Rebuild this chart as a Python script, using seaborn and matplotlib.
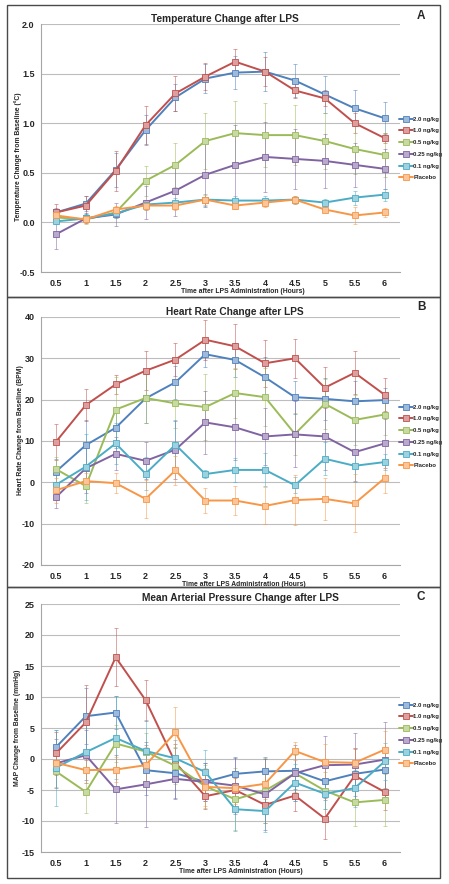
import matplotlib.pyplot as plt
import matplotlib.patches as patches
import matplotlib.colors as mcolors
import seaborn as sns
import pandas as pd


sns.set_style("white")
plt.rcParams["font.family"] = ["Liberation Sans", "DejaVu Sans"]
plt.rcParams["font.weight"] = "bold"

hours = [0.5, 1, 1.5, 2, 2.5, 3, 3.5, 4, 4.5, 5, 5.5, 6]
doses = ["2.0 ng/kg", "1.0 ng/kg", "0.5 ng/kg", "0.25 ng/kg", "0.1 ng/kg", "Placebo"]
colors = ["#4F81BD", "#C0504D", "#9BBB59", "#8064A2", "#4BACC6", "#F79646"]

# A - temperature change (deg C)
temp_20 = [0.10, 0.19, 0.53, 0.93, 1.26, 1.45, 1.51, 1.52, 1.43, 1.29, 1.15, 1.05]
temp_10 = [0.10, 0.17, 0.52, 0.98, 1.30, 1.47, 1.62, 1.52, 1.33, 1.25, 1.00, 0.85]
temp_05 = [0.05, 0.03, 0.10, 0.42, 0.58, 0.82, 0.90, 0.88, 0.88, 0.82, 0.74, 0.68]
temp_025 = [-0.12, 0.04, 0.08, 0.20, 0.32, 0.48, 0.58, 0.66, 0.64, 0.62, 0.58, 0.54]
temp_01 = [0.01, 0.04, 0.09, 0.18, 0.20, 0.23, 0.22, 0.22, 0.23, 0.20, 0.25, 0.28]
temp_pl = [0.07, 0.03, 0.13, 0.17, 0.17, 0.23, 0.17, 0.20, 0.23, 0.13, 0.07, 0.10]
temp_20_err = [0.05, 0.08, 0.17, 0.15, 0.14, 0.15, 0.17, 0.20, 0.17, 0.19, 0.18, 0.16]
temp_10_err = [0.09, 0.10, 0.20, 0.19, 0.18, 0.14, 0.13, 0.15, 0.08, 0.08, 0.10, 0.05]
temp_05_err = [0.05, 0.05, 0.06, 0.15, 0.22, 0.28, 0.32, 0.32, 0.30, 0.28, 0.25, 0.22]
temp_025_err = [0.15, 0.05, 0.12, 0.17, 0.26, 0.32, 0.40, 0.35, 0.30, 0.27, 0.22, 0.20]
temp_01_err = [0.03, 0.04, 0.05, 0.05, 0.05, 0.06, 0.05, 0.05, 0.04, 0.04, 0.07, 0.06]
temp_pl_err = [0.03, 0.04, 0.04, 0.04, 0.05, 0.05, 0.03, 0.04, 0.04, 0.03, 0.09, 0.05]

# B - heart rate change (BPM)
hr_20 = [2.6, 9.0, 13.2, 20.3, 24.2, 31.0, 29.6, 25.4, 20.6, 20.2, 19.6, 19.9]
hr_10 = [9.8, 18.7, 23.7, 27.0, 29.7, 34.5, 32.9, 28.8, 30.0, 22.9, 26.5, 21.2]
hr_05 = [3.2, -0.9, 17.6, 20.4, 19.1, 18.2, 21.6, 20.6, 11.7, 19.0, 15.1, 16.4]
hr_025 = [-3.6, 3.4, 6.9, 5.2, 7.9, 14.5, 13.3, 11.1, 11.6, 11.1, 7.3, 9.4]
hr_01 = [-0.6, 3.8, 9.4, 2.1, 9.1, 2.0, 3.0, 3.0, -0.7, 5.7, 4.0, 4.9]
hr_pl = [-1.9, 0.3, -0.2, -4.0, 2.9, -4.4, -4.4, -5.7, -4.3, -4.0, -5.1, 1.0]
hr_20_err = [3.0, 6.0, 5.0, 6.0, 4.0, 3.0, 4.0, 5.0, 4.0, 5.0, 5.0, 3.0]
hr_10_err = [4.3, 3.8, 2.3, 4.7, 4.0, 4.8, 5.4, 5.7, 4.7, 4.9, 5.2, 4.0]
hr_05_err = [3.0, 4.0, 8.0, 6.0, 6.0, 8.0, 6.0, 7.0, 5.0, 6.0, 6.0, 5.0]
hr_025_err = [2.5, 6.0, 4.0, 4.5, 7.0, 7.6, 8.0, 7.0, 8.0, 8.0, 7.0, 6.0]
hr_01_err = [3.0, 8.0, 5.0, 4.0, 6.0, 1.0, 3.0, 4.0, 2.0, 4.0, 4.0, 2.0]
hr_pl_err = [3.0, 2.0, 2.5, 4.6, 3.5, 3.0, 3.5, 4.5, 6.0, 5.0, 7.0, 3.5]

# C - mean arterial pressure change (mmHg)
map_20 = [1.9, 6.9, 7.5, -1.8, -2.3, -3.7, -2.4, -2.0, -1.9, -3.6, -2.4, -1.7]
map_10 = [0.9, 5.9, 16.4, 9.5, -0.6, -6.0, -5.0, -7.4, -5.9, -9.6, -2.7, -5.3]
map_05 = [-2.0, -5.3, 2.5, 1.2, -1.1, -4.4, -6.5, -5.1, -2.3, -5.1, -7.0, -6.6]
map_025 = [-0.7, 0.6, -4.9, -4.1, -3.2, -3.7, -4.3, -5.7, -2.3, -1.0, -0.9, -0.1]
map_01 = [-1.4, 1.1, 3.4, 1.3, 0.1, -2.1, -8.1, -8.4, -3.8, -5.6, -4.7, -0.4]
map_pl = [-0.6, -1.8, -1.7, -1.0, 4.3, -4.5, -4.7, -4.0, 1.3, -0.5, -0.6, 1.5]
map_20_err = [2.7, 4.5, 2.7, 4.0, 4.0, 3.0, 2.8, 2.3, 3.0, 3.0, 4.0, 3.0]
map_10_err = [3.5, 6.1, 4.7, 3.3, 3.0, 2.0, 2.0, 3.0, 2.5, 3.3, 4.5, 3.0]
map_05_err = [2.5, 3.4, 3.0, 3.0, 3.0, 3.5, 5.0, 5.3, 3.0, 3.0, 3.8, 4.2]
map_025_err = [4.0, 4.0, 5.5, 6.8, 3.2, 3.0, 4.5, 5.7, 4.5, 4.7, 5.1, 6.1]
map_01_err = [6.1, 5.0, 6.7, 5.0, 3.0, 3.5, 3.5, 3.4, 3.0, 2.5, 3.0, 3.0]
map_pl_err = [1.7, 2.0, 2.0, 3.0, 4.1, 3.0, 2.5, 2.5, 1.5, 3.0, 2.4, 3.0]

temp_means = [temp_20, temp_10, temp_05, temp_025, temp_01, temp_pl]
temp_errs = [temp_20_err, temp_10_err, temp_05_err, temp_025_err, temp_01_err, temp_pl_err]
hr_means = [hr_20, hr_10, hr_05, hr_025, hr_01, hr_pl]
hr_errs = [hr_20_err, hr_10_err, hr_05_err, hr_025_err, hr_01_err, hr_pl_err]
map_means = [map_20, map_10, map_05, map_025, map_01, map_pl]
map_errs = [map_20_err, map_10_err, map_05_err, map_025_err, map_01_err, map_pl_err]

W, H = 449, 884
fig = plt.figure(figsize=(W / 100, H / 100), dpi=100)


def px_box(left, top, right, bottom):
    return [left / W, 1 - bottom / H, (right - left) / W, (bottom - top) / H]


def lighten(color, amount=0.45):
    r, g, b = mcolors.to_rgb(color)
    return (r + (1 - r) * amount, g + (1 - g) * amount, b + (1 - b) * amount)


def draw_panel(ax, means, errs, title, title_xy, letter, letter_y, ylabel, ylabel_xy,
               xlabel_x, ylim, yticks, yfmt, legend_y):
    rows = []
    for dose, m, e in zip(doses, means, errs):
        for h, v, s in zip(hours, m, e):
            rows.append({"Hour": h, "Value": v, "Err": s, "Dose": dose})
    df = pd.DataFrame(rows)

    ax.set_xlim(0.25, 6.25)
    ax.set_ylim(*ylim)
    ax.set_yticks(yticks)
    ax.yaxis.grid(True, color="#BDBDBD", linewidth=0.8)
    ax.set_axisbelow(True)

    handles = []
    for dose, color in zip(doses, colors):
        sub = df[df["Dose"] == dose]
        ax.errorbar(sub["Hour"], sub["Value"], yerr=sub["Err"], fmt="none",
                    ecolor=color, elinewidth=0.6, capsize=1.2, capthick=0.6,
                    alpha=0.6, zorder=2)
        sns.lineplot(data=sub, x="Hour", y="Value", ax=ax, color=color,
                     marker="s", markersize=3.8, linewidth=1.4,
                     markerfacecolor=lighten(color), markeredgecolor=color,
                     markeredgewidth=0.6, errorbar=None, zorder=3, legend=False)
        handles.append(ax.lines[-1])

    ax.set_xticks(hours)
    ax.set_xticklabels([f"{h:g}" for h in hours])
    ax.set_xticks([h + 0.25 for h in [0.0] + hours], minor=True)
    ax.tick_params(axis="x", which="major", length=0, pad=5, labelsize=6.5)
    ax.tick_params(axis="x", which="minor", length=2.5, color="#9A9A9A", width=0.6)
    ax.tick_params(axis="y", which="major", length=2.5, color="#9A9A9A", width=0.6,
                   labelsize=6.5, pad=2)
    ax.set_yticklabels([yfmt.format(v) for v in yticks])
    for lab in ax.get_xticklabels() + ax.get_yticklabels():
        lab.set_fontweight("bold")

    sns.despine(ax=ax)
    for side in ["left", "bottom"]:
        ax.spines[side].set_color("#A6A6A6")
        ax.spines[side].set_linewidth(0.8)

    ax.set_xlabel("Time after LPS Administration (Hours)", fontsize=4.9,
                  fontweight="bold", va="center")
    ax.xaxis.set_label_coords(xlabel_x, -0.077)
    ax.set_ylabel(ylabel, fontsize=4.9, fontweight="bold", va="center")
    ax.yaxis.set_label_coords(*ylabel_xy)

    fig.text(title_xy[0] / W, 1 - title_xy[1] / H, title, fontsize=7.3,
             fontweight="bold", ha="center", va="center")
    fig.text(421 / W, 1 - letter_y / H, letter, fontsize=8.5,
             fontweight="bold", ha="center", va="center")

    ax.legend(handles, doses, loc="center left",
              bbox_to_anchor=(397 / W, 1 - legend_y / H),
              bbox_transform=fig.transFigure, frameon=False,
              prop={"size": 4.3, "weight": "bold"}, handlelength=2.2,
              handletextpad=0.1, labelspacing=1.1, borderaxespad=0)


# panel frames
for top, bottom in [(5, 297), (297, 587), (587, 878)]:
    fig.patches.append(patches.Rectangle((7 / W, 1 - bottom / H), (440 - 7) / W,
                                         (bottom - top) / H, transform=fig.transFigure,
                                         fill=False, edgecolor="#4A4A4A", linewidth=1.0))

ax_a = fig.add_axes(px_box(41, 24, 399.5, 272))
draw_panel(ax_a, temp_means, temp_errs, "Temperature Change after LPS", (225, 19), "A", 16,
           "Temperature Change from Baseline (\u00b0C)", (-0.064, 0.464), 0.563,
           (-0.5, 2.0), [-0.5, 0.0, 0.5, 1.0, 1.5, 2.0], "{:.1f}", 148.5)

ax_b = fig.add_axes(px_box(41, 317, 399.5, 565))
draw_panel(ax_b, hr_means, hr_errs, "Heart Rate Change after LPS", (235, 312), "B", 307,
           "Heart Rate Change from Baseline (BPM)", (-0.058, 0.544), 0.567,
           (-20, 40), [-20, -10, 0, 10, 20, 30, 40], "{:.0f}", 436.5)

ax_c = fig.add_axes(px_box(41, 604, 399.5, 852))
draw_panel(ax_c, map_means, map_errs, "Mean Arterial Pressure Change after LPS", (240, 598), "C", 597,
           "MAP Change from Baseline (mmHg)", (-0.066, 0.5), 0.557,
           (-15, 25), [-15, -10, -5, 0, 5, 10, 15, 20, 25], "{:.0f}", 734.5)

fig.savefig("out.png", dpi=100)
